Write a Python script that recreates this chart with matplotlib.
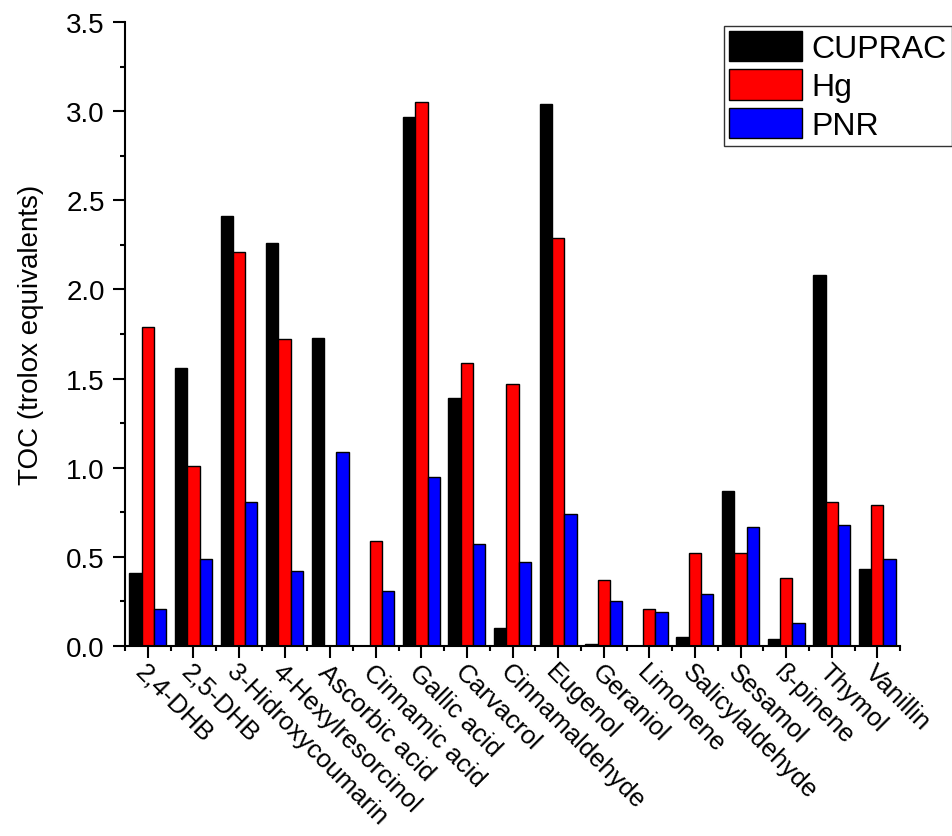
import numpy as np
import matplotlib.pyplot as plt
from matplotlib.ticker import MultipleLocator, FixedLocator

plt.rcParams['font.family'] = ['Liberation Sans', 'DejaVu Sans']

compounds = ['2,4-DHB', '2,5-DHB', '3-Hidroxycoumarin', '4-Hexylresorcinol',
             'Ascorbic acid', 'Cinnamic acid', 'Gallic acid', 'Carvacrol',
             'Cinnamaldehyde', 'Eugenol', 'Geraniol', 'Limonene',
             'Salicylaldehyde', 'Sesamol', 'ß-pinene', 'Thymol', 'Vanillin']

cuprac = [0.41, 1.56, 2.41, 2.26, 1.73, 0.00, 2.97, 1.39, 0.10, 3.04,
          0.01, 0.00, 0.05, 0.87, 0.04, 2.08, 0.43]
hg = [1.79, 1.01, 2.21, 1.72, 0.00, 0.59, 3.05, 1.59, 1.47, 2.29,
      0.37, 0.21, 0.52, 0.52, 0.38, 0.81, 0.79]
pnr = [0.21, 0.49, 0.81, 0.42, 1.09, 0.31, 0.95, 0.57, 0.47, 0.74,
       0.25, 0.19, 0.29, 0.67, 0.13, 0.68, 0.49]

fig = plt.figure(figsize=(9.52, 8.37), dpi=100)
ax = fig.add_axes([0.1313, 0.227, 0.8142, 0.7455])

x = np.arange(len(compounds))
w = 0.27
ax.bar(x - w, cuprac, w, color='black', edgecolor='black', linewidth=1, label='CUPRAC')
ax.bar(x, hg, w, color='#ff0000', edgecolor='black', linewidth=1, label='Hg')
ax.bar(x + w, pnr, w, color='#0000ff', edgecolor='black', linewidth=1, label='PNR')

ax.set_xlim(-0.5, len(compounds) - 0.5)
ax.set_ylim(0, 3.5)
ax.yaxis.set_major_locator(MultipleLocator(0.5))
ax.yaxis.set_minor_locator(MultipleLocator(0.25))
ax.set_yticklabels([f'{v:.1f}' for v in ax.get_yticks()])
ax.set_xticks(x)
ax.xaxis.set_minor_locator(FixedLocator(np.arange(-0.5, len(compounds), 1.0)))
ax.set_xticklabels(compounds, rotation=-45, ha='left', va='top',
                   rotation_mode='anchor', fontsize=18.5)

for s in ['top', 'right']:
    ax.spines[s].set_visible(False)
for s in ['left', 'bottom']:
    ax.spines[s].set_linewidth(1.5)

ax.tick_params(axis='both', which='major', direction='out', length=8.5, width=1.5)
ax.tick_params(axis='both', which='minor', direction='out', length=3.6, width=1.5)
ax.tick_params(axis='y', which='major', pad=6, labelsize=20)
ax.tick_params(axis='x', which='major', pad=1)

ax.set_ylabel('TOC (trolox equivalents)', fontsize=20, labelpad=16)

leg = ax.legend(loc='upper right', bbox_to_anchor=(0.9995, 0.968),
                bbox_transform=fig.transFigure, borderaxespad=0,
                fontsize=23, handlelength=2.28, handleheight=1.1,
                labelspacing=0.17, handletextpad=0.3, borderpad=0.15,
                fancybox=False, framealpha=1, edgecolor='#333333')
leg.get_frame().set_linewidth(1)

fig.savefig('out.png', dpi=100)
